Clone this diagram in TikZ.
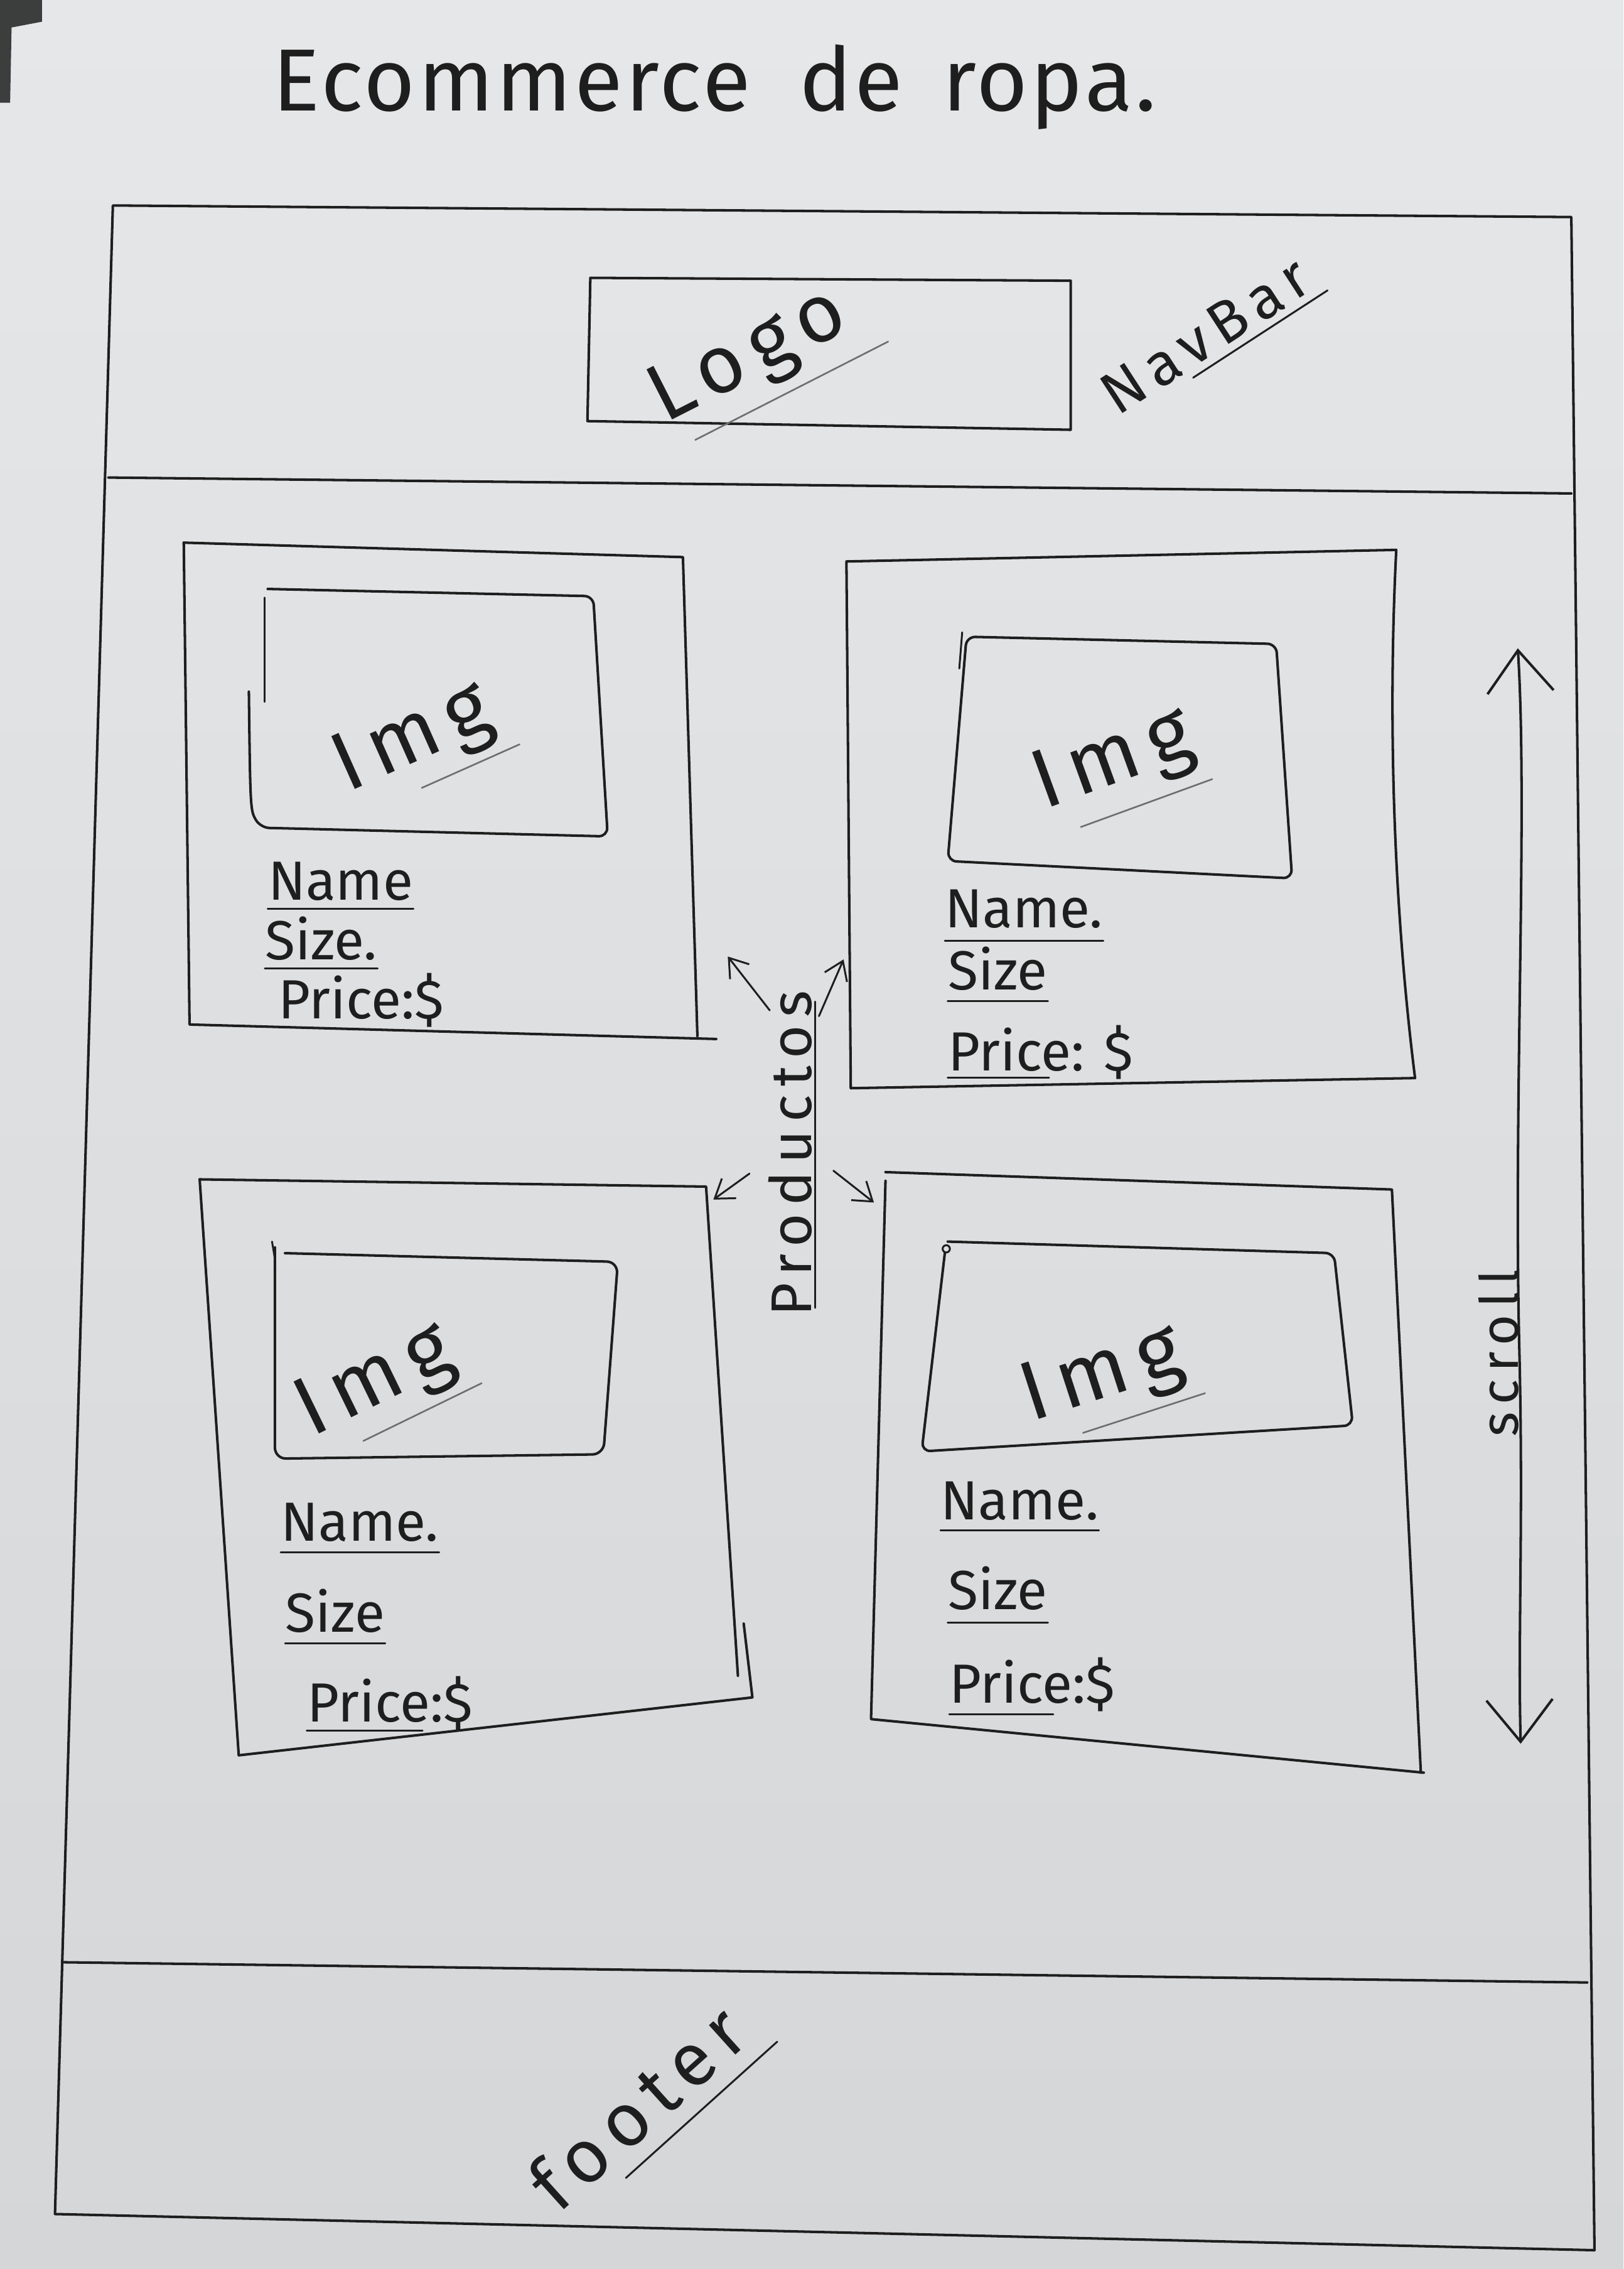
\documentclass[tikz,border=0pt]{standalone}
\usepackage{fontspec}
\setmainfont{Fira Sans}
\usetikzlibrary{arrows.meta,calc}
\definecolor{paperTop}{HTML}{E6E7E8}
\definecolor{paperBot}{HTML}{D5D6D7}
\definecolor{ink}{HTML}{1E1E1E}
\definecolor{pencil}{HTML}{6E6E6E}
\definecolor{shadow}{HTML}{3C3E3D}
\newcommand{\airy}{\addfontfeature{LetterSpace=14}}
\begin{document}
\begin{tikzpicture}[x=0.02305cm,y=-0.02305cm,
  pen/.style={draw=ink, line width=1.15pt, line join=round, line cap=round},
  finepen/.style={draw=ink, line width=0.85pt, line cap=round},
  faint/.style={draw=pencil, line width=0.75pt, line cap=round},
  hand/.style={text=ink, inner sep=0pt},
  field/.style={hand, anchor=base west, font=\fontsize{25}{28}\selectfont},
  imglbl/.style={hand, font=\fontsize{38}{42}\selectfont\airy},
  pointer/.style={finepen, -{Straight Barb[length=8pt,width=11pt]}},
  scrollarrow/.style={pen, {Straight Barb[length=19pt,width=30pt]}-{Straight Barb[length=19pt,width=30pt]}}
]
% sheet of paper
\shade[top color=paperTop, bottom color=paperBot] (0,0) rectangle (1122,1568);
\useasboundingbox (0,0) rectangle (1122,1568);
\fill[shadow] (0,0) -- (29,0) -- (29,15) -- (8,19) -- (7,71) -- (0,71) -- cycle;

% heading
\node[hand, font=\fontsize{40}{46}\selectfont\addfontfeature{LetterSpace=3}] (title) at (494,60) {Ecommerce\hspace{0.55em}de\hspace{0.45em}ropa.};

% page frame with header and footer bands
\draw[pen] (78,142) -- (1086,150) -- (1102,1555) -- (38,1530) -- cycle;
\draw[pen] (75,330) -- (1086,341);
\draw[pen] (43,1356) -- (1097,1370);

% header: logo box and label
\draw[pen] (408,192) -- (740,194) -- (740,297) -- (406,291) -- cycle;
\node[hand, rotate=27, font=\fontsize{37}{40}\selectfont\airy] (logo) at (518,248) {Logo};
\draw[faint] ($(logo.south west)!0.12!(logo.south east)+(0,8)$) -- ($(logo.south west)!1.15!(logo.south east)+(0,8)$);
\node[hand, rotate=33, font=\fontsize{27}{30}\selectfont\airy] (navbar) at (833,232) {NavBar};
\draw[finepen] ($(navbar.south west)!0.38!(navbar.south east)+(0,6)$) -- ($(navbar.south west)!1.06!(navbar.south east)+(0,6)$);

% ---------- product card 1 ----------
\draw[pen] (127,375) -- (472,385) -- (482,716);
\draw[pen] (127,375) -- (131,708) -- (495,718);
\draw[finepen] (183,413) -- (183,485);
\draw[pen, rounded corners=4] (185,407) -- (410,412) -- (420,578) -- (180,572) .. controls (173,560) .. (172,478);
\node[imglbl, rotate=24] (img1) at (286,512) {Img};
\draw[faint] ($(img1.south west)!0.45!(img1.south east)+(0,6)$) -- ($(img1.south west)!1.1!(img1.south east)+(0,6)$);
\node[field] (name1) at (185,622) {Name};
\draw[finepen] ([yshift=-4pt]name1.base west) -- ([yshift=-4pt]name1.base east);
\node[field] (size1) at (183,663) {Size.};
\draw[finepen] ([yshift=-4pt]size1.base west) -- ([yshift=-4pt]size1.base east);
\node[field] (price1) at (192,704) {Price:\$};

% ---------- product card 2 ----------
\draw[pen] (585,388) -- (965,380) .. controls (958,520) and (966,650) .. (978,745) -- (588,752) -- cycle;
\draw[finepen] (665,437) -- (663,462);
\draw[pen, rounded corners=4] (668,440) -- (882,445) -- (893,607) -- (655,595) -- cycle;
\node[imglbl, rotate=20] (img2) at (770,527) {Img};
\draw[faint] ($(img2.south west)!0.2!(img2.south east)+(0,8)$) -- ($(img2.south west)!1.05!(img2.south east)+(0,8)$);
\node[field] (name2) at (653,641) {Name.};
\draw[finepen] ([yshift=-6pt]name2.base west) -- ([yshift=-6pt]name2.base east);
\node[field] (size2) at (655,684) {Size};
\draw[finepen] ([yshift=-5pt]size2.base west) -- ([yshift=-5pt]size2.base east);
\node[field] (price2) at (655,740) {Price: \$};
\draw[finepen] ([yshift=-3pt]price2.base west) -- ++(70,0);

% ---------- product card 3 ----------
\draw[pen] (138,815) -- (488,820) -- (510,1158);
\draw[pen] (138,815) -- (165,1213) -- (520,1173) -- (514,1122);
\draw[finepen] (188,858) -- (190,870);
\draw[pen, rounded corners=5] (197,866) -- (427,872) -- (417,1005) -- (190,1008) -- (190,862);
\node[imglbl, rotate=26] (img3) at (260,956) {Img};
\draw[faint] ($(img3.south west)!0.3!(img3.south east)+(0,6)$) -- ($(img3.south west)!1.1!(img3.south east)+(0,6)$);
\node[field] (name3) at (194,1065) {Name.};
\draw[finepen] ([yshift=-5pt]name3.base west) -- ([yshift=-5pt]name3.base east);
\node[field] (size3) at (197,1128) {Size};
\draw[finepen] ([yshift=-5pt]size3.base west) -- ([yshift=-5pt]size3.base east);
\node[field] (price3) at (212,1190) {Price:\$};
\draw[finepen] ([yshift=-4pt]price3.base west) -- ++(80,0);

% ---------- product card 4 ----------
\draw[pen] (612,810) -- (962,822) -- (982,1225);
\draw[pen] (612,816) -- (602,1188) -- (984,1225);
\draw[finepen] (654,863) circle (2.5);
\draw[pen, rounded corners=4] (655,858) -- (922,866) -- (935,985) -- (637,1003) -- (653,866);
\node[imglbl, rotate=18] (img4) at (762,952) {Img};
\draw[faint] ($(img4.south west)!0.3!(img4.south east)+(0,6)$) -- ($(img4.south west)!1.08!(img4.south east)+(0,6)$);
\node[field] (name4) at (650,1050) {Name.};
\draw[finepen] ([yshift=-5pt]name4.base west) -- ([yshift=-5pt]name4.base east);
\node[field] (size4) at (655,1112) {Size};
\draw[finepen] ([yshift=-6pt]size4.base west) -- ([yshift=-6pt]size4.base east);
\node[field] (price4) at (656,1177) {Price:\$};
\draw[finepen] ([yshift=-5pt]price4.base west) -- ++(72,0);

% ---------- section label and pointers to the cards ----------
\node[hand, rotate=90, font=\fontsize{26}{29}\selectfont\airy] (productos) at (546,797) {Productos};
\draw[finepen] ($(productos.south west)+(2,-6)$) -- ($(productos.south east)+(2,8)$);
\coordinate (toA) at (503,661);
\coordinate (toB) at (583,663);
\coordinate (toC) at (493,829);
\coordinate (toD) at (604,831);
\draw[pointer] ($(productos.east)+(-14,14)$) -- (toA);
\draw[pointer] ($(productos.east)+(20,18)$) -- (toB);
\draw[pointer] ($(productos.center)+(-28,14)$) -- (toC);
\draw[pointer] ($(productos.center)+(30,12)$) -- (toD);

% ---------- scroll indicator ----------
\coordinate (scrolltop) at (1049,448);
\coordinate (scrollbot) at (1051,1205);
\draw[scrollarrow] (scrolltop) .. controls (1056,560) and (1046,760) .. (1050,930) .. controls (1053,1050) and (1049,1130) .. (scrollbot);
\node[hand, rotate=90, font=\fontsize{24}{27}\selectfont\airy] (scroll) at (1036,935) {scroll};

% ---------- footer label ----------
\node[hand, rotate=42, font=\fontsize{34}{38}\selectfont\airy] (footer) at (440,1456) {footer};
\draw[finepen] ($(footer.south west)!0.3!(footer.south east)+(6,10)$) -- ($(footer.south west)!1.08!(footer.south east)+(6,10)$);
\end{tikzpicture}
\end{document}
